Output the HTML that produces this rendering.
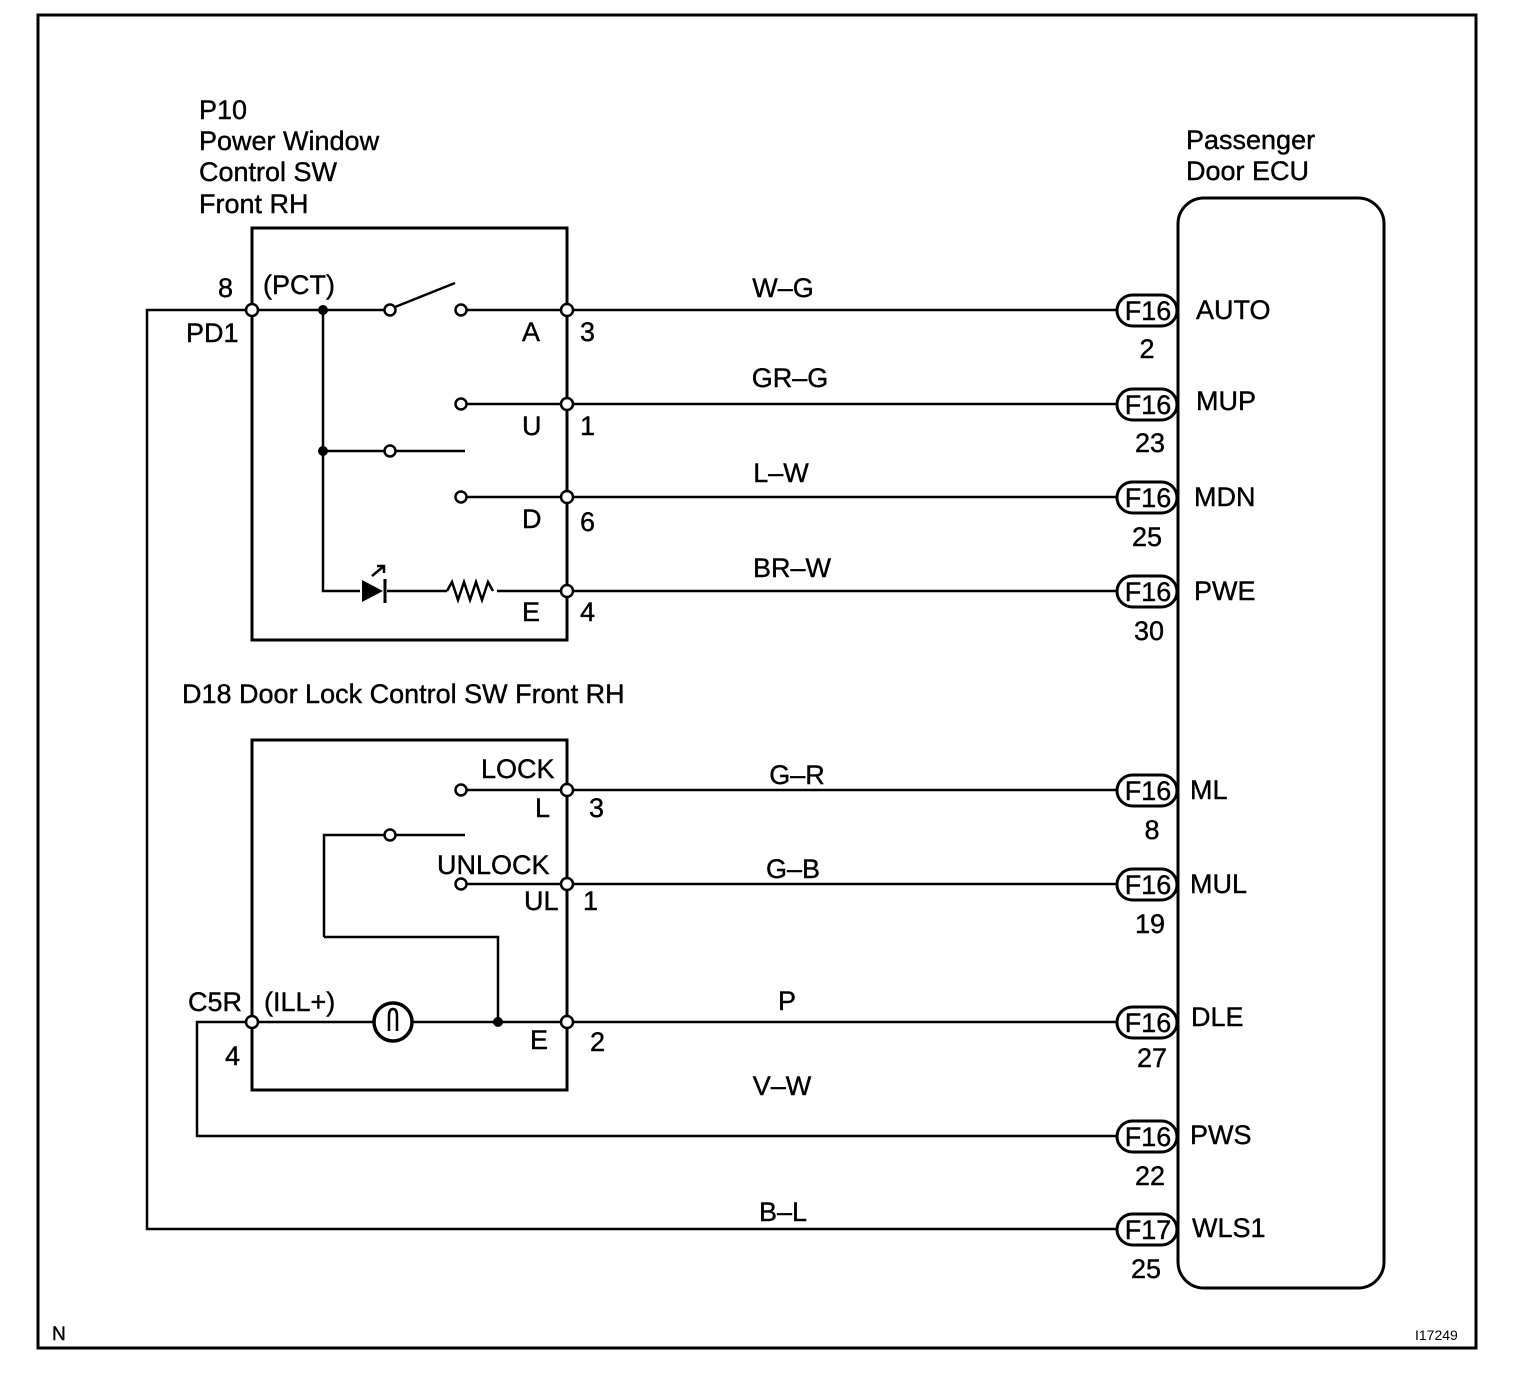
<!DOCTYPE html><html><head><style>body{margin:0;background:#fff}svg{display:block}text{font-family:"Liberation Sans",sans-serif;font-size:27px;fill:#000;stroke:#000;stroke-width:0.4}</style></head><body>
<svg width="1520" height="1390" viewBox="0 0 1520 1390" xmlns="http://www.w3.org/2000/svg">
<g fill="none" stroke="#000" stroke-width="3">
<rect x="38" y="15" width="1438" height="1333"/>
<rect x="1178" y="198" width="206" height="1090" rx="26"/>
<rect x="252" y="228" width="315" height="412"/>
<rect x="252" y="740" width="315" height="350"/>
</g>
<g fill="none" stroke="#000" stroke-width="2.5">
<path d="M567 310H1117M567 404H1117M567 497H1117M567 591H1117M567 790H1117M567 884H1117M567 1022H1117"/>
<path d="M252 310H147V1229H1117"/>
<path d="M252 1022H197V1136H1117"/>
<path d="M252 310H385M466 310H567M323 310V591H360M387 591H447M497 591H567"/>
<path d="M395 307L455 283"/>
<path d="M323 451H385M395 451H465"/>
<path d="M466 404H567M466 497H567"/>
<path d="M447 591l5 -9l6 18l6 -18l6 18l6 -18l6 18l6 -18l5 9"/>
<path d="M372 576l12 -10M377 566h7v7"/>
<path d="M466 790H567M466 884H567"/>
<path d="M324 937V835H385M395 835H465"/>
<path d="M324 937H498V1022"/>
<path d="M252 1022H373M413 1022H567"/>
</g>
<polygon points="362,580 362,602 383,591" fill="#000"/>
<line x1="385" y1="579" x2="385" y2="603" stroke="#000" stroke-width="3"/>
<circle cx="393" cy="1022" r="19" fill="#fff" stroke="#000" stroke-width="3.5"/>
<path d="M389 1031V1016q0-7 4-7q4 0 4 7v15" fill="none" stroke="#000" stroke-width="2.5"/>
<g fill="#fff" stroke="#000" stroke-width="2.5">
<circle cx="252" cy="310" r="6"/><circle cx="390" cy="310" r="5.5"/><circle cx="461" cy="310" r="5.5"/><circle cx="567" cy="310" r="6"/>
<circle cx="461" cy="404" r="5.5"/><circle cx="567" cy="404" r="6"/>
<circle cx="390" cy="451" r="5.5"/>
<circle cx="461" cy="497" r="5.5"/><circle cx="567" cy="497" r="6"/>
<circle cx="567" cy="591" r="6"/>
<circle cx="461" cy="790" r="5.5"/><circle cx="567" cy="790" r="6"/>
<circle cx="390" cy="835" r="5.5"/>
<circle cx="461" cy="884" r="5.5"/><circle cx="567" cy="884" r="6"/>
<circle cx="252" cy="1022" r="6"/><circle cx="567" cy="1022" r="6"/>
</g>
<g fill="#000"><circle cx="323" cy="310" r="5"/><circle cx="323" cy="451" r="5"/><circle cx="498" cy="1022" r="5"/></g>
<g fill="#fff" stroke="#000" stroke-width="3">
<rect x="1117" y="295" width="60" height="31" rx="15.5"/>
<rect x="1117" y="389" width="60" height="31" rx="15.5"/>
<rect x="1117" y="482" width="60" height="31" rx="15.5"/>
<rect x="1117" y="576" width="60" height="31" rx="15.5"/>
<rect x="1117" y="775" width="60" height="31" rx="15.5"/>
<rect x="1117" y="869" width="60" height="31" rx="15.5"/>
<rect x="1117" y="1007" width="60" height="31" rx="15.5"/>
<rect x="1117" y="1121" width="60" height="31" rx="15.5"/>
<rect x="1117" y="1214" width="60" height="31" rx="15.5"/>
</g>
<g text-anchor="middle">
<text x="1148" y="320">F16</text><text x="1148" y="414">F16</text><text x="1148" y="507">F16</text><text x="1148" y="601">F16</text>
<text x="1148" y="800">F16</text><text x="1148" y="894">F16</text><text x="1148" y="1032">F16</text><text x="1148" y="1146">F16</text><text x="1148" y="1239">F17</text>
<text x="1147" y="358">2</text><text x="1150" y="452">23</text><text x="1147" y="546">25</text><text x="1149" y="640">30</text>
<text x="1152" y="839">8</text><text x="1150" y="933">19</text><text x="1152" y="1067">27</text><text x="1150" y="1185">22</text><text x="1146" y="1278">25</text>
<text x="783" y="297">W–G</text><text x="790" y="387">GR–G</text><text x="781" y="482">L–W</text><text x="792" y="577">BR–W</text>
<text x="797" y="784">G–R</text><text x="793" y="878">G–B</text><text x="787" y="1010">P</text><text x="782" y="1095">V–W</text><text x="783" y="1221">B–L</text>
</g>
<text x="1196" y="319">AUTO</text><text x="1196" y="410">MUP</text><text x="1194" y="506">MDN</text><text x="1194" y="600">PWE</text>
<text x="1190" y="799">ML</text><text x="1190" y="893">MUL</text><text x="1191" y="1026">DLE</text><text x="1190" y="1144">PWS</text><text x="1192" y="1237">WLS1</text>
<text x="1186" y="149">Passenger</text><text x="1186" y="180">Door ECU</text>
<text x="199" y="119">P10</text><text x="199" y="150">Power Window</text><text x="199" y="181">Control SW</text><text x="199" y="213">Front RH</text>
<text x="218" y="297">8</text><text x="263" y="294">(PCT)</text><text x="186" y="342">PD1</text>
<text x="522" y="341">A</text><text x="580" y="341">3</text>
<text x="522" y="435">U</text><text x="580" y="435">1</text>
<text x="522" y="528">D</text><text x="580" y="531">6</text>
<text x="522" y="621">E</text><text x="580" y="621">4</text>
<text x="182" y="703">D18 Door Lock Control SW Front RH</text>
<text x="481" y="778">LOCK</text><text x="535" y="817">L</text><text x="589" y="817">3</text>
<text x="437" y="874">UNLOCK</text><text x="524" y="910">UL</text><text x="583" y="910">1</text>
<text x="188" y="1011">C5R</text><text x="264" y="1011">(ILL+)</text>
<text x="530" y="1049">E</text><text x="590" y="1051">2</text><text x="225" y="1065">4</text>
<text x="52" y="1340" style="font-size:19px">N</text>
<text x="1415" y="1340" style="font-size:14px;stroke-width:0">I17249</text>
</svg>
</body></html>
